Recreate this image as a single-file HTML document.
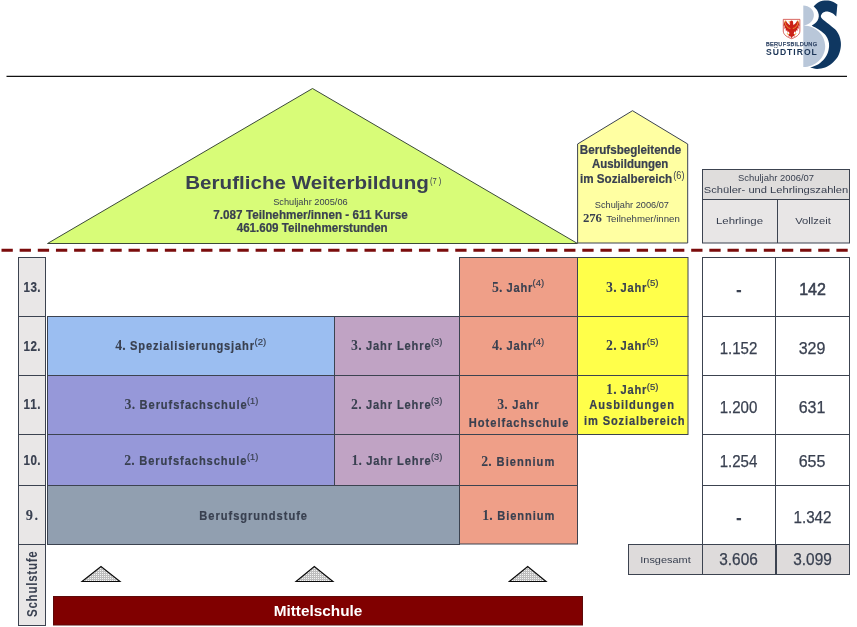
<!DOCTYPE html>
<html lang="de">
<head>
<meta charset="utf-8">
<title>Berufsbildung Südtirol</title>
<style>
html,body{margin:0;padding:0;background:#fff;}
body{width:857px;height:627px;overflow:hidden;font-family:"Liberation Sans",sans-serif;}
svg{display:block;will-change:transform;}
text{font-family:"Liberation Sans",sans-serif;fill:#394050;}
.b{font-weight:bold;}
.n{stroke:#394050;stroke-width:0.2;}
.ln{stroke:#3c4350;stroke-width:1;}
</style>
</head>
<body>
<svg width="857" height="627" viewBox="0 0 857 627">
<defs>
<pattern id="dots" width="2" height="2" patternUnits="userSpaceOnUse">
<rect width="2" height="2" fill="#bdbdbd"/><rect width="1" height="1" fill="#f4f4f4"/>
</pattern>
</defs>
<rect width="857" height="627" fill="#fff"/>
<!-- top rule -->
<line x1="6.5" y1="76.3" x2="847" y2="76.3" stroke="#111" stroke-width="1.3"/>
<!-- LOGO -->
<g id="logo">
<path d="M803.3 5.6 C809.2 5.6 813.9 9.9 813.9 15.1 C813.9 20.4 809.6 24.9 803.8 25.6 C815.6 26 825.2 35 825.2 46.3 C825.2 57.8 815.4 67.1 803.3 67.1 Z" fill="#b9c7d9"/>
<path d="M813.65 6.14 C814.53 5.43 816.87 2.84 818.96 1.90 C821.05 0.96 823.88 0.54 826.20 0.50 C828.52 0.46 831.03 1.02 832.90 1.68 C834.77 2.34 836.65 4.00 837.40 4.47 C837.32 5.39 837.08 7.99 836.90 10.00 C836.72 12.01 836.40 15.42 836.30 16.50 C835.73 15.98 834.20 14.20 832.90 13.40 C831.60 12.60 829.90 11.93 828.50 11.70 C827.10 11.47 825.62 11.62 824.50 12.00 C823.38 12.38 822.35 13.17 821.75 13.96 C821.15 14.75 820.71 15.83 820.90 16.75 C821.09 17.67 821.83 18.48 822.90 19.50 C823.97 20.52 825.63 21.58 827.30 22.90 C828.97 24.22 831.48 26.22 832.90 27.40 C834.32 28.58 834.75 28.67 835.80 30.00 C836.85 31.33 838.37 33.38 839.20 35.40 C840.03 37.42 840.58 39.87 840.80 42.10 C841.02 44.33 841.00 46.35 840.50 48.80 C840.00 51.25 839.25 54.35 837.80 56.80 C836.35 59.25 833.92 61.72 831.80 63.50 C829.68 65.28 827.55 66.60 825.10 67.50 C822.65 68.40 819.58 68.90 817.10 68.90 C814.62 68.90 811.35 67.73 810.20 67.50 C811.57 66.95 816.03 65.65 818.40 64.20 C820.77 62.75 822.83 60.70 824.40 58.80 C825.97 56.90 827.02 54.92 827.80 52.80 C828.58 50.68 829.00 48.12 829.10 46.10 C829.20 44.08 828.95 42.48 828.40 40.70 C827.85 38.92 827.00 36.97 825.80 35.40 C824.60 33.83 822.80 32.55 821.20 31.30 C819.60 30.05 817.78 28.83 816.20 27.90 C814.62 26.97 812.45 26.07 811.70 25.70 C812.45 25.13 815.08 23.52 816.20 22.30 C817.32 21.08 817.98 19.70 818.40 18.40 C818.82 17.10 818.93 15.89 818.70 14.50 C818.47 13.11 817.84 11.44 817.00 10.05 C816.16 8.66 814.21 6.79 813.65 6.14 Z" fill="#0f3761"/>
<g transform="translate(760 10) scale(0.0829)">
<path d="M281 113 H481 V255 C481 300 430 330 381 346 C332 330 281 300 281 255 Z" fill="#fff" stroke="#cc352c" stroke-width="9"/>
<g transform="translate(381 0) scale(1.12 1) translate(-381 0)">
<path d="M381 126 C370 126 362 136 364 150 L348 156 L366 163 L362 180 C345 170 330 150 320 126 C303 138 294 165 296 195 L306 185 L304 228 L316 214 L320 255 L332 240 L340 275 L352 257 L358 285 L338 302 L352 303 L345 324 L365 313 L381 340 L397 313 L417 324 L410 303 L424 302 L404 285 L410 257 L422 275 L430 240 L442 255 L446 214 L458 228 L456 185 L466 195 C468 165 459 138 442 126 C432 150 417 170 400 180 L398 163 C400 138 392 126 381 126 Z" fill="#cb2018"/>
<path d="M310 148 C316 192 340 218 368 224 M452 148 C446 192 422 218 394 224" fill="none" stroke="#f0a030" stroke-width="10"/>
<path d="M330 283 l18 14 M432 283 l-18 14 M350 138 l16 9 M306 140 l10 -12 M456 140 l-10 -12" fill="none" stroke="#f4b83c" stroke-width="11"/>
</g>
</g>
<text x="766" y="45.8" font-size="5.6" textLength="51" lengthAdjust="spacing" style="fill:#263c5e;stroke:#263c5e;stroke-width:0.25">BERUFSBILDUNG</text>
<text x="766" y="55.4" font-size="8.6" class="b" textLength="50.8" lengthAdjust="spacing" style="fill:#1b3456">SÜDTIROL</text>
</g>


<!-- big triangle -->
<polygon points="47.5,243.5 312.5,88.5 577.5,243.5" fill="#d8fc78" stroke="#3c4a3a" stroke-width="1"/>
<text x="185.2" y="188.8" font-size="19" class="b" textLength="243.7" lengthAdjust="spacingAndGlyphs">Berufliche Weiterbildung</text>
<text x="430.0" y="184.1" font-size="9" textLength="11.4" lengthAdjust="spacingAndGlyphs">(7 )</text>
<text x="273.2" y="205.0" font-size="8.5" textLength="74.5" lengthAdjust="spacingAndGlyphs">Schuljahr 2005/06</text>
<text x="213.3" y="218.5" font-size="12.4" class="b n" textLength="194.6" lengthAdjust="spacingAndGlyphs">7.087 Teilnehmer/innen - 611 Kurse</text>
<text x="236.7" y="231.7" font-size="12.4" class="b n" textLength="151.0" lengthAdjust="spacingAndGlyphs">461.609 Teilnehmerstunden</text>
<!-- house -->
<polygon points="577.6,243 577.6,144 632.5,110.7 687.7,144 687.7,243" fill="#ffffa2" class="ln"/>
<text x="579.8" y="153.9" font-size="12" class="b n" textLength="101.5" lengthAdjust="spacingAndGlyphs">Berufsbegleitende</text>
<text x="591.9" y="167.6" font-size="12" class="b n" textLength="76.4" lengthAdjust="spacingAndGlyphs">Ausbildungen</text>
<text x="580.0" y="182.7" font-size="12" class="b n" textLength="92.0" lengthAdjust="spacingAndGlyphs">im Sozialbereich</text>
<text x="673.3" y="179.4" font-size="10.5" textLength="11.2" lengthAdjust="spacingAndGlyphs">(6)</text>
<text x="594.8" y="207.5" font-size="8.5" textLength="74.2" lengthAdjust="spacingAndGlyphs">Schuljahr 2006/07</text>
<text x="582.9" y="221.7" font-size="13" class="b" textLength="19.1" lengthAdjust="spacingAndGlyphs" style="font-family:'Liberation Serif',serif">276</text>
<text x="606.3" y="221.7" font-size="8.5" textLength="73.5" lengthAdjust="spacingAndGlyphs">Teilnehmer/innen</text>
<!-- header table -->
<rect x="702.5" y="169.5" width="147" height="73.5" fill="#e8e6e6" class="ln"/>
<rect x="702.5" y="169.5" width="147" height="30" fill="#dfdddc" class="ln"/>
<line x1="702.5" y1="199.5" x2="849.5" y2="199.5" class="ln"/>
<line x1="777.5" y1="199.5" x2="777.5" y2="243" class="ln"/>
<text x="776.0" y="181.2" font-size="8.8" text-anchor="middle" textLength="76.0" lengthAdjust="spacingAndGlyphs">Schuljahr 2006/07</text>
<text x="776.0" y="193.0" font-size="9.8" text-anchor="middle" textLength="144.5" lengthAdjust="spacingAndGlyphs">Schüler- und Lehrlingszahlen</text>
<text x="739.5" y="224.0" font-size="9.8" text-anchor="middle" textLength="47.0" lengthAdjust="spacingAndGlyphs">Lehrlinge</text>
<text x="813.0" y="224.0" font-size="9.8" text-anchor="middle" textLength="35.5" lengthAdjust="spacingAndGlyphs">Vollzeit</text>
<!-- dashed line -->
<line x1="1.5" y1="250.3" x2="848" y2="250.3" stroke="#7b0c0c" stroke-width="3" stroke-dasharray="11.3 6.85"/>
<!-- left labels -->
<rect x="18.5" y="257.5" width="27" height="368" fill="#e9e7e7" class="ln"/>
<g class="ln"><line x1="18.5" y1="316.5" x2="45.5" y2="316.5"/><line x1="18.5" y1="375.5" x2="45.5" y2="375.5"/><line x1="18.5" y1="434.5" x2="45.5" y2="434.5"/><line x1="18.5" y1="485.5" x2="45.5" y2="485.5"/><line x1="18.5" y1="544.5" x2="45.5" y2="544.5"/></g>
<text transform="translate(23.6 292.0) scale(0.830 1)" font-size="14" class="b n" textLength="20.5" lengthAdjust="spacing">13.</text>
<text transform="translate(23.6 350.5) scale(0.830 1)" font-size="14" class="b n" textLength="20.5" lengthAdjust="spacing">12.</text>
<text transform="translate(23.6 409.0) scale(0.830 1)" font-size="14" class="b n" textLength="20.5" lengthAdjust="spacing">11.</text>
<text transform="translate(23.6 464.6) scale(0.830 1)" font-size="14" class="b n" textLength="20.5" lengthAdjust="spacing">10.</text>
<text x="25.8" y="520" font-size="14.5" class="b" style="font-family:'Liberation Serif',serif" textLength="12.3" lengthAdjust="spacing">9.</text>
<text transform="translate(37.3 617) rotate(-90) scale(0.830 1)" font-size="14" class="b" textLength="79.3" lengthAdjust="spacing">Schulstufe</text>
<!-- blocks -->
<g class="ln">
<rect x="47.5" y="316.5" width="287" height="59" fill="#9bbef1"/>
<rect x="47.5" y="375.5" width="287" height="59" fill="#9698d9"/>
<rect x="47.5" y="434.5" width="287" height="51" fill="#9698d9"/>
<rect x="47.5" y="485.5" width="412" height="59" fill="#919fb0"/>
<rect x="334.5" y="316.5" width="125" height="59" fill="#c0a3c4"/>
<rect x="334.5" y="375.5" width="125" height="59" fill="#c0a3c4"/>
<rect x="334.5" y="434.5" width="125" height="51" fill="#c0a3c4"/>
<rect x="459.5" y="257.5" width="118" height="59" fill="#ef9f88"/>
<rect x="459.5" y="316.5" width="118" height="59" fill="#ef9f88"/>
<rect x="459.5" y="375.5" width="118" height="59" fill="#ef9f88"/>
<rect x="459.5" y="434.5" width="118" height="51" fill="#ef9f88"/>
<rect x="459.5" y="485.5" width="118" height="58.5" fill="#ef9f88"/>
<rect x="577.5" y="257.5" width="110.5" height="59" fill="#ffff4a"/>
<rect x="577.5" y="316.5" width="110.5" height="59" fill="#ffff4a"/>
<rect x="577.5" y="375.5" width="110.5" height="59" fill="#ffff4a"/>
</g>
<text x="115.2" y="350.0" font-size="13.8" class="b" style="font-family:'Liberation Serif',serif" textLength="10.6" lengthAdjust="spacing">4.</text>
<text transform="translate(130.1 350.0) scale(0.830 1)" font-size="13.4" class="b n" textLength="149.3" lengthAdjust="spacing">Spezialisierungsjahr</text>
<text x="124.5" y="408.6" font-size="13.8" class="b" style="font-family:'Liberation Serif',serif" textLength="10.6" lengthAdjust="spacing">3.</text>
<text transform="translate(139.6 408.6) scale(0.830 1)" font-size="13.4" class="b n" textLength="128.9" lengthAdjust="spacing">Berufsfachschule</text>
<text x="124.2" y="465.0" font-size="13.8" class="b" style="font-family:'Liberation Serif',serif" textLength="10.6" lengthAdjust="spacing">2.</text>
<text transform="translate(139.3 465.0) scale(0.830 1)" font-size="13.4" class="b n" textLength="129.1" lengthAdjust="spacing">Berufsfachschule</text>
<text transform="translate(199.3 520.0) scale(0.830 1)" font-size="13.4" class="b n" textLength="129.8" lengthAdjust="spacing">Berufsgrundstufe</text>
<text x="351.0" y="350.0" font-size="13.8" class="b" style="font-family:'Liberation Serif',serif" textLength="10.6" lengthAdjust="spacing">3.</text>
<text transform="translate(366.0 350.0) scale(0.830 1)" font-size="13.4" class="b n" textLength="77.9" lengthAdjust="spacing">Jahr Lehre</text>
<text x="351.0" y="408.7" font-size="13.8" class="b" style="font-family:'Liberation Serif',serif" textLength="10.6" lengthAdjust="spacing">2.</text>
<text transform="translate(366.0 408.7) scale(0.830 1)" font-size="13.4" class="b n" textLength="77.9" lengthAdjust="spacing">Jahr Lehre</text>
<text x="351.4" y="464.8" font-size="13.8" class="b" style="font-family:'Liberation Serif',serif" textLength="10.6" lengthAdjust="spacing">1.</text>
<text transform="translate(366.3 464.8) scale(0.830 1)" font-size="13.4" class="b n" textLength="77.7" lengthAdjust="spacing">Jahr Lehre</text>
<text x="491.9" y="292.0" font-size="13.8" class="b" style="font-family:'Liberation Serif',serif" textLength="10.6" lengthAdjust="spacing">5.</text>
<text transform="translate(506.6 292.0) scale(0.830 1)" font-size="13.4" class="b n" textLength="31.0" lengthAdjust="spacing">Jahr</text>
<text x="491.9" y="350.0" font-size="13.8" class="b" style="font-family:'Liberation Serif',serif" textLength="10.6" lengthAdjust="spacing">4.</text>
<text transform="translate(506.6 350.0) scale(0.830 1)" font-size="13.4" class="b n" textLength="31.0" lengthAdjust="spacing">Jahr</text>
<text x="497.2" y="409.2" font-size="13.8" class="b" style="font-family:'Liberation Serif',serif" textLength="10.6" lengthAdjust="spacing">3.</text>
<text transform="translate(512.3 409.2) scale(0.830 1)" font-size="13.4" class="b n" textLength="31.6" lengthAdjust="spacing">Jahr</text>
<text transform="translate(468.8 426.7) scale(0.830 1)" font-size="13.4" class="b n" textLength="119.9" lengthAdjust="spacing">Hotelfachschule</text>
<text x="481.2" y="465.6" font-size="13.8" class="b" style="font-family:'Liberation Serif',serif" textLength="10.6" lengthAdjust="spacing">2.</text>
<text transform="translate(496.6 465.6) scale(0.830 1)" font-size="13.4" class="b n" textLength="69.5" lengthAdjust="spacing">Biennium</text>
<text x="482.2" y="519.8" font-size="13.8" class="b" style="font-family:'Liberation Serif',serif" textLength="10.6" lengthAdjust="spacing">1.</text>
<text transform="translate(497.3 519.8) scale(0.830 1)" font-size="13.4" class="b n" textLength="68.7" lengthAdjust="spacing">Biennium</text>
<text x="606.1" y="292.0" font-size="13.8" class="b" style="font-family:'Liberation Serif',serif" textLength="10.6" lengthAdjust="spacing">3.</text>
<text transform="translate(620.6 292.0) scale(0.830 1)" font-size="13.4" class="b n" textLength="30.9" lengthAdjust="spacing">Jahr</text>
<text x="606.1" y="350.0" font-size="13.8" class="b" style="font-family:'Liberation Serif',serif" textLength="10.6" lengthAdjust="spacing">2.</text>
<text transform="translate(620.6 350.0) scale(0.830 1)" font-size="13.4" class="b n" textLength="30.9" lengthAdjust="spacing">Jahr</text>
<text x="606.1" y="393.7" font-size="13.8" class="b" style="font-family:'Liberation Serif',serif" textLength="10.6" lengthAdjust="spacing">1.</text>
<text transform="translate(620.6 393.7) scale(0.830 1)" font-size="13.4" class="b n" textLength="30.9" lengthAdjust="spacing">Jahr</text>
<text transform="translate(589.3 409.4) scale(0.830 1)" font-size="13.4" class="b n" textLength="102.0" lengthAdjust="spacing">Ausbildungen</text>
<text transform="translate(584.0 425.0) scale(0.830 1)" font-size="13.4" class="b n" textLength="121.2" lengthAdjust="spacing">im Sozialbereich</text>
<text x="254.5" y="345.2" font-size="9.8" textLength="11.7" lengthAdjust="spacingAndGlyphs" style="stroke:#394050;stroke-width:0.2">(2)</text>
<text x="247.0" y="404.1" font-size="9.8" textLength="11.2" lengthAdjust="spacingAndGlyphs" style="stroke:#394050;stroke-width:0.2">(1)</text>
<text x="247.0" y="459.7" font-size="9.8" textLength="11.2" lengthAdjust="spacingAndGlyphs" style="stroke:#394050;stroke-width:0.2">(1)</text>
<text x="431.0" y="345.2" font-size="9.8" textLength="11.3" lengthAdjust="spacingAndGlyphs" style="stroke:#394050;stroke-width:0.2">(3)</text>
<text x="431.0" y="404.1" font-size="9.8" textLength="11.3" lengthAdjust="spacingAndGlyphs" style="stroke:#394050;stroke-width:0.2">(3)</text>
<text x="431.0" y="459.5" font-size="9.8" textLength="11.3" lengthAdjust="spacingAndGlyphs" style="stroke:#394050;stroke-width:0.2">(3)</text>
<text x="532.6" y="286.2" font-size="9.8" textLength="11.6" lengthAdjust="spacingAndGlyphs" style="stroke:#394050;stroke-width:0.2">(4)</text>
<text x="532.6" y="345.2" font-size="9.8" textLength="11.6" lengthAdjust="spacingAndGlyphs" style="stroke:#394050;stroke-width:0.2">(4)</text>
<text x="646.8" y="286.2" font-size="9.8" textLength="11.8" lengthAdjust="spacingAndGlyphs" style="stroke:#394050;stroke-width:0.2">(5)</text>
<text x="646.8" y="345.2" font-size="9.8" textLength="11.8" lengthAdjust="spacingAndGlyphs" style="stroke:#394050;stroke-width:0.2">(5)</text>
<text x="646.8" y="390.3" font-size="8.6" textLength="11.6" lengthAdjust="spacingAndGlyphs" style="stroke:#394050;stroke-width:0.2">(5)</text>
<!-- data table -->
<g class="ln" fill="#fff">
<rect x="702.5" y="257.5" width="147" height="287"/>
<line x1="775.5" y1="257.5" x2="775.5" y2="544.5"/>
<line x1="702.5" y1="316.5" x2="849.5" y2="316.5"/>
<line x1="702.5" y1="375.5" x2="849.5" y2="375.5"/>
<line x1="702.5" y1="434.5" x2="849.5" y2="434.5"/>
<line x1="702.5" y1="485.5" x2="849.5" y2="485.5"/>
<rect x="628.5" y="544.5" width="74" height="30" fill="#dedbdb"/>
<rect x="702.5" y="544.5" width="73" height="30" fill="#dedbdb"/>
<rect x="776.5" y="544.5" width="73" height="30" fill="#dedbdb"/>
</g>
<g font-size="16" text-anchor="middle" style="stroke:#394050;stroke-width:0.25">
<text x="739" y="295.2" class="b">-</text>
<text x="812.5" y="295" style="stroke:#394050;stroke-width:0.5">142</text>
<text x="738.5" y="353.5" textLength="37.7" lengthAdjust="spacingAndGlyphs">1.152</text>
<text x="812" y="353.5">329</text>
<text x="738.5" y="413" textLength="37.7" lengthAdjust="spacingAndGlyphs">1.200</text>
<text x="812" y="413">631</text>
<text x="738.5" y="467" textLength="37.7" lengthAdjust="spacingAndGlyphs">1.254</text>
<text x="812" y="467">655</text>
<text x="739" y="523.3" class="b">-</text>
<text x="812.5" y="522.8" textLength="38" lengthAdjust="spacingAndGlyphs">1.342</text>
<text x="738.5" y="565" textLength="38.5" lengthAdjust="spacingAndGlyphs">3.606</text>
<text x="812.5" y="565" textLength="38.5" lengthAdjust="spacingAndGlyphs">3.099</text>
</g>
<text x="665.5" y="562.7" font-size="9.3" text-anchor="middle" textLength="50.5" lengthAdjust="spacingAndGlyphs">Insgesamt</text>
<!-- small triangles -->
<g fill="url(#dots)" stroke="#0a0a0a" stroke-width="1.1">
<polygon points="82,581.5 101,566.5 120,581.5"/>
<polygon points="296,581.5 314.3,566.5 333,581.5"/>
<polygon points="509.3,581.5 527.7,566.5 546.1,581.5"/>
</g>
<!-- Mittelschule -->
<rect x="53.5" y="596.5" width="529" height="28.5" fill="#800000" stroke="#5d0a0a" stroke-width="1"/>
<text x="273.7" y="615.5" font-size="15" class="b" textLength="88.6" lengthAdjust="spacingAndGlyphs" style="fill:#fff">Mittelschule</text>
</svg>
</body>
</html>
